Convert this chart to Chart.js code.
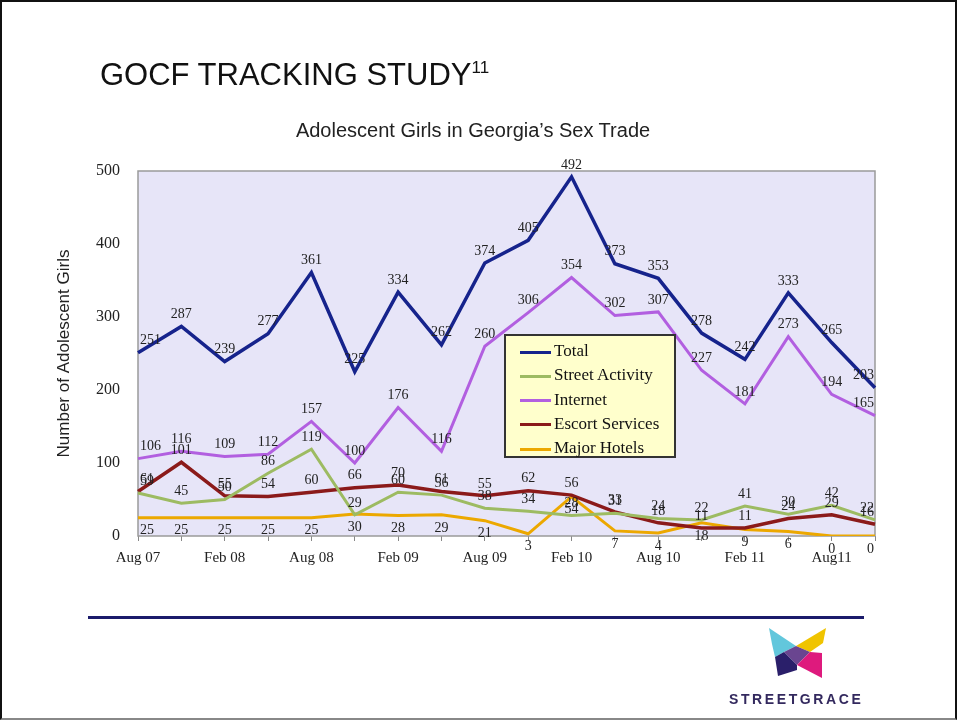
<!DOCTYPE html>
<html>
<head>
<meta charset="utf-8">
<script src="https://cdn.jsdelivr.net/npm/chart.js@4"></script>
<style>
    html, body { margin: 0; padding: 0; background: #fff; }
    #slide {
        position: relative; width: 957px; height: 720px; overflow: hidden;
        box-sizing: border-box; border: 2px solid #111; border-bottom-color: #888;
        font-family: "Liberation Sans", Arial, sans-serif;
    }
    #chart { position: absolute; left: -2px; top: -2px; }
    #heading { position: absolute; left: 98px; top: 55px; font-size: 31px; color: #111; white-space: nowrap; }
    #heading sup { font-size: 17px; vertical-align: 12px; }
    #subtitle { position: absolute; left: 0; width: 942px; top: 117px; text-align: center; font-size: 20px; color: #222; }
    #legend {
        position: absolute; left: 502px; top: 332px; width: 168px; height: 120px;
        background: #ffffcc; border: 2px solid #333;
        font-family: "Liberation Serif", "Times New Roman", serif; font-size: 17px; color: #111;
    }
    .item { position: absolute; left: 14px; height: 24px; line-height: 24px; white-space: nowrap; }
    .item i { display: inline-block; width: 31px; height: 3px; vertical-align: middle; margin-right: 3px; }
    #rule { position: absolute; left: 86px; top: 614px; width: 776px; height: 3px; background: #1b1b6b; }
    #logo { position: absolute; left: 740px; top: 618px; }
    #logoText {
        position: absolute; left: 727px; top: 689px; font-size: 14px; font-weight: bold;
        letter-spacing: 2.6px; color: #33295e;
    }
</style>
</head>
<body>
<div id="slide">
    <canvas id="chart" width="957" height="720"></canvas>
    <div id="heading">GOCF TRACKING STUDY<sup>11</sup></div>
    <div id="subtitle">Adolescent Girls in Georgia’s Sex Trade</div>
    <div id="legend"></div>
    <div id="rule"></div>
    <svg id="logo" width="100" height="64" viewBox="0 0 100 64">
        <polygon points="27,8 54,26 42,32 33,37 30,24" fill="#62c7dc"/>
        <polygon points="84,8 81,23 68,32 54,26" fill="#f0c400"/>
        <polygon points="54,26 68,32 55,45 42,32" fill="#6a4590"/>
        <polygon points="33,37 42,32 55,45 55,50 36,56" fill="#2a1f6a"/>
        <polygon points="55,45 68,32 80,33 80,58" fill="#de1a7d"/>
    </svg>
    <div id="logoText">STREETGRACE</div>
</div>
<script>
// quarterly readings, Aug 07 - Nov 11
const months = ['Aug 07', 'Nov 07', 'Feb 08', 'May 08', 'Aug 08', 'Nov 08', 'Feb 09', 'May 09', 'Aug 09',
    'Nov 09', 'Feb 10', 'May 10', 'Aug 10', 'Nov 10', 'Feb 11', 'May 11', 'Aug11', 'Nov 11'];
const tickLabels = ['Aug 07', '', 'Feb 08', '', 'Aug 08', '', 'Feb 09', '', 'Aug 09',
    '', 'Feb 10', '', 'Aug 10', '', 'Feb 11', '', 'Aug11', ''];
const yTicks = [0, 100, 200, 300, 400, 500];

const total = [251, 287, 239, 277, 361, 225, 334, 262, 374, 405, 492, 373, 353, 278, 242, 333, 265, 203];
const street = [59, 45, 50, 86, 119, 29, 60, 56, 38, 34, 28, 31, 24, 22, 41, 30, 42, 22];
const internet = [106, 116, 109, 112, 157, 100, 176, 116, 260, 306, 354, 302, 307, 227, 181, 273, 194, 165];
const escort = [61, 101, 55, 54, 60, 66, 70, 61, 55, 62, 56, 33, 18, 11, 11, 24, 29, 16];
const hotels = [25, 25, 25, 25, 25, 30, 28, 29, 21, 3, 54, 7, 4, 18, 9, 6, 0, 0];

const serif = '"Liberation Serif", "Times New Roman", serif';

const datasets = [
    { label: 'Total', data: total, borderColor: '#16238c', borderWidth: 3.5, labelDy: -12 },
    { label: 'Street Activity', data: street, borderColor: '#9dbb62', borderWidth: 3, labelDy: -12 },
    { label: 'Internet', data: internet, borderColor: '#b25fe0', borderWidth: 3, labelDy: -12 },
    { label: 'Escort Services', data: escort, borderColor: '#8b1a1a', borderWidth: 3.5, labelDy: -12 },
    { label: 'Major Hotels', data: hotels, borderColor: '#eca800', borderWidth: 3, labelDy: 13 }
];
datasets.forEach(d => { d.pointRadius = 0; d.tension = 0; d.fill = false; d.borderJoinStyle = 'miter'; });

// plot background + frame
const plotBox = {
    id: 'plotBox',
    beforeDatasetsDraw(chart) {
        const a = chart.chartArea, ctx = chart.ctx;
        ctx.save();
        ctx.fillStyle = '#e7e5f8';
        ctx.fillRect(a.left, a.top, a.right - a.left, a.bottom - a.top);
        ctx.strokeStyle = '#9a9a9a';
        ctx.lineWidth = 1.5;
        ctx.strokeRect(a.left, a.top, a.right - a.left, a.bottom - a.top);
        ctx.restore();
    }
};

// value labels next to each point
const valueLabels = {
    id: 'valueLabels',
    afterDatasetsDraw(chart) {
        const ctx = chart.ctx;
        ctx.save();
        ctx.font = '14px ' + serif;
        ctx.fillStyle = '#222';
        ctx.textBaseline = 'middle';
        chart.data.datasets.forEach((ds, di) => {
            const meta = chart.getDatasetMeta(di);
            meta.data.forEach((pt, i) => {
                const last = meta.data.length - 1;
                ctx.textAlign = i === 0 ? 'left' : (i === last ? 'right' : 'center');
                const dx = i === 0 ? 2 : (i === last ? -1 : 0);
                ctx.fillText(String(ds.data[i]), pt.x + dx, pt.y + ds.labelDy);
            });
        });
        ctx.restore();
    }
};

const chart = new Chart(document.getElementById('chart'), {
    type: 'line',
    data: { labels: months, datasets: datasets },
    options: {
        responsive: false,
        animation: false,
        layout: { padding: { top: 171, left: 52, right: 82, bottom: 154 } },
        plugins: { legend: { display: false }, tooltip: { enabled: false }, title: { display: false } },
        scales: {
            x: {
                offset: false,
                grid: { display: true, drawOnChartArea: false, tickLength: 5, color: '#888' },
                border: { display: false },
                ticks: {
                    autoSkip: false, maxRotation: 0, padding: 8, color: '#222',
                    font: { family: serif, size: 15 },
                    callback: (v, i) => tickLabels[i]
                },
                afterFit: s => { s.height = 30; }
            },
            y: {
                min: 0, max: 500,
                afterBuildTicks: s => { s.ticks = yTicks.map(v => ({ value: v })); },
                grid: { display: false },
                border: { display: false },
                ticks: { padding: 10, color: '#222', font: { family: serif, size: 16 } },
                title: {
                    display: true, text: 'Number of Adolescent Girls', color: '#222',
                    font: { family: '"Liberation Sans", Arial, sans-serif', size: 17 },
                    padding: { top: 2, bottom: 4 }
                },
                afterFit: s => { s.width = 86; }
            }
        }
    },
    plugins: [plotBox, valueLabels]
});

// legend built from the datasets
const legend = document.getElementById('legend');
datasets.forEach((d, i) => {
    const row = document.createElement('div');
    row.className = 'item';
    row.style.top = (3 + i * 24.3) + 'px';
    row.innerHTML = '<i style="background:' + d.borderColor + '"></i>' + d.label;
    legend.appendChild(row);
});
</script>
</body>
</html>
